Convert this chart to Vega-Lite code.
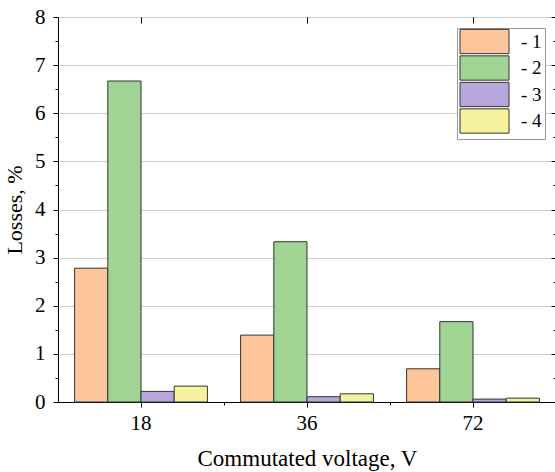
{
  "$schema": "https://vega.github.io/schema/vega-lite/v6.json",
  "width": 498,
  "height": 385,
  "autosize": "none",
  "padding": {"left": 58, "top": 17, "right": 0, "bottom": 70},
  "background": "white",
  "config": {
    "font": "Liberation Serif",
    "view": {"stroke": "black", "strokeWidth": 1},
    "axis": {
      "labelFont": "Liberation Serif",
      "labelFontSize": 21,
      "labelColor": "black",
      "titleFont": "Liberation Serif",
      "titleFontSize": 23,
      "titleFontWeight": "normal",
      "titleColor": "black",
      "domainColor": "black",
      "tickColor": "black",
      "tickWidth": 1,
      "domainWidth": 1
    }
  },
  "data": {
    "values": [
      {"voltage": "18", "series": "1", "loss": 2.78},
      {"voltage": "18", "series": "2", "loss": 6.67},
      {"voltage": "18", "series": "3", "loss": 0.22},
      {"voltage": "18", "series": "4", "loss": 0.33},
      {"voltage": "36", "series": "1", "loss": 1.39},
      {"voltage": "36", "series": "2", "loss": 3.33},
      {"voltage": "36", "series": "3", "loss": 0.11},
      {"voltage": "36", "series": "4", "loss": 0.17},
      {"voltage": "72", "series": "1", "loss": 0.69},
      {"voltage": "72", "series": "2", "loss": 1.67},
      {"voltage": "72", "series": "3", "loss": 0.06},
      {"voltage": "72", "series": "4", "loss": 0.08}
    ]
  },
  "layer": [
    {
      "mark": {"type": "bar", "stroke": "#333333", "strokeWidth": 1},
      "encoding": {
        "x": {
          "field": "voltage",
          "type": "nominal",
          "scale": {"type": "band", "paddingInner": 0.2, "paddingOuter": 0.1},
          "axis": {
            "orient": "bottom",
            "title": "Commutated voltage, V",
            "labelAngle": 0,
            "tickSize": 5,
            "labelPadding": 5,
            "titlePadding": 14,
            "grid": false
          }
        },
        "xOffset": {
          "field": "series",
          "type": "nominal",
          "scale": {"paddingInner": 0, "paddingOuter": 0}
        },
        "y": {
          "field": "loss",
          "type": "quantitative",
          "scale": {"domain": [0, 8], "nice": false},
          "axis": {
            "orient": "left",
            "title": "Losses, %",
            "titleFontSize": 22,
            "values": [0, 0.5, 1, 1.5, 2, 2.5, 3, 3.5, 4, 4.5, 5, 5.5, 6, 6.5, 7, 7.5, 8],
            "labelExpr": "datum.value % 1 == 0 ? format(datum.value, 'd') : ''",
            "tickSize": {"condition": {"test": "datum.value % 1 != 0", "value": 3}, "value": 5},
            "labelPadding": 8,
            "titlePadding": 8,
            "grid": true,
            "gridColor": "#cccccc",
            "gridOpacity": {"condition": {"test": "datum.value % 1 != 0", "value": 0}, "value": 1}
          }
        },
        "color": {
          "field": "series",
          "type": "nominal",
          "scale": {"domain": ["1", "2", "3", "4"], "range": ["#FCC59A", "#9FD492", "#B8A7DA", "#F6F19C"]},
          "legend": {
            "orient": "none",
            "legendX": 399,
            "legendY": 11,
            "title": null,
            "symbolType": "M-1.05,-1.215H3.85V1.215H-1.05Z",
            "symbolSize": 400,
            "symbolStrokeColor": "#333333",
            "symbolStrokeWidth": 1,
            "symbolOpacity": 1,
            "labelExpr": "'- ' + datum.label",
            "labelFont": "Liberation Serif",
            "labelFontSize": 19,
            "labelColor": "black",
            "strokeColor": "#999999",
            "fillColor": "white",
            "padding": 3,
            "rowPadding": -2.5,
            "labelOffset": 40
          }
        }
      }
    },
    {
      "mark": {"type": "point", "opacity": 0},
      "encoding": {
        "x": {
          "field": "voltage",
          "type": "nominal",
          "scale": {"type": "band", "paddingInner": 0.2, "paddingOuter": 0.1},
          "axis": {"orient": "top", "labels": false, "title": null, "domain": false, "tickSize": -6, "grid": false}
        },
        "y": {
          "field": "loss",
          "type": "quantitative",
          "axis": {
            "orient": "right",
            "labels": false,
            "title": null,
            "domain": false,
            "grid": false,
            "values": [0, 0.5, 1, 1.5, 2, 2.5, 3, 3.5, 4, 4.5, 5, 5.5, 6, 6.5, 7, 7.5, 8],
            "tickSize": {"condition": {"test": "datum.value % 1 != 0", "value": -3}, "value": -5}
          }
        }
      }
    },
    {
      "mark": {"type": "point", "opacity": 0},
      "encoding": {
        "x": {
          "datum": 2,
          "type": "quantitative",
          "scale": {"domain": [0.5, 3.5], "nice": false, "zero": false},
          "axis": {"orient": "bottom", "values": [1.5, 2.5], "labels": false, "title": null, "domain": false, "tickSize": 3, "grid": false}
        }
      }
    }
  ],
  "resolve": {"scale": {"x": "independent"}, "axis": {"y": "independent"}}
}
